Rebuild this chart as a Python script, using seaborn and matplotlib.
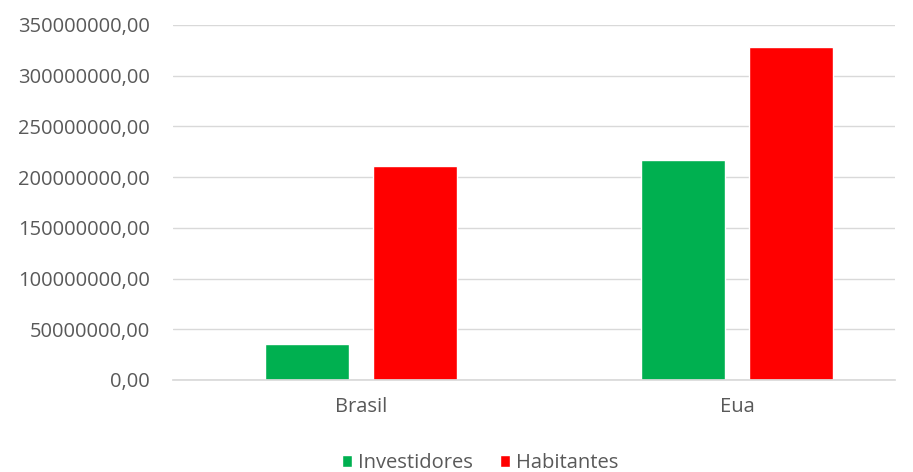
import matplotlib
matplotlib.use("Agg")
import matplotlib.pyplot as plt
import seaborn as sns
import pandas as pd
from matplotlib.ticker import FuncFormatter, MultipleLocator

categories = ["Brasil", "Eua"]
series_names = ["Investidores", "Habitantes"]
investidores = [35500000, 217000000]
habitantes = [211000000, 328000000]
colors = ["#00B050", "#FF0000"]

df = pd.DataFrame({
    "pais": categories * 2,
    "serie": [series_names[0]] * 2 + [series_names[1]] * 2,
    "valor": investidores + habitantes,
})

sns.set_theme(style="white")
plt.rcParams["font.family"] = ["Open Sans", "DejaVu Sans"]

fig = plt.figure(figsize=(9.13, 4.72), dpi=100)
ax = fig.add_axes([173 / 913, 1 - 380 / 472, (895 - 173) / 913, (380 - 25) / 472])

sns.barplot(data=df, x="pais", y="valor", hue="serie", order=categories,
            hue_order=series_names, palette=colors, width=0.575, gap=0.224,
            saturation=1, ax=ax, legend=True)

ax.set_xlim(-0.5, 1.42)
ax.set_ylim(0, 350000000)
ax.yaxis.set_major_locator(MultipleLocator(50000000))
ax.yaxis.set_major_formatter(FuncFormatter(lambda v, p: f"{v:.2f}".replace(".", ",")))
ax.grid(axis="y", color="#D9D9D9", linewidth=1)
ax.set_axisbelow(True)
for s in ["top", "right", "left"]:
    ax.spines[s].set_visible(False)
ax.spines["bottom"].set_color("#D9D9D9")
ax.tick_params(axis="both", length=0, labelsize=14.5, labelcolor="#595959")
ax.tick_params(axis="y", pad=16.5)
ax.tick_params(axis="x", pad=12)
ax.set_xlabel("")
ax.set_ylabel("")

handles, labels = ax.get_legend_handles_labels()
ax.legend(handles, labels, loc="center", bbox_to_anchor=(480 / 913, 1 - 463 / 472),
          bbox_transform=fig.transFigure, ncol=2, frameon=False, fontsize=14.5,
          handlelength=0.5, handleheight=0.5, handletextpad=0.3, columnspacing=1.35,
          labelcolor="#595959")

fig.savefig("out.png", dpi=100)
